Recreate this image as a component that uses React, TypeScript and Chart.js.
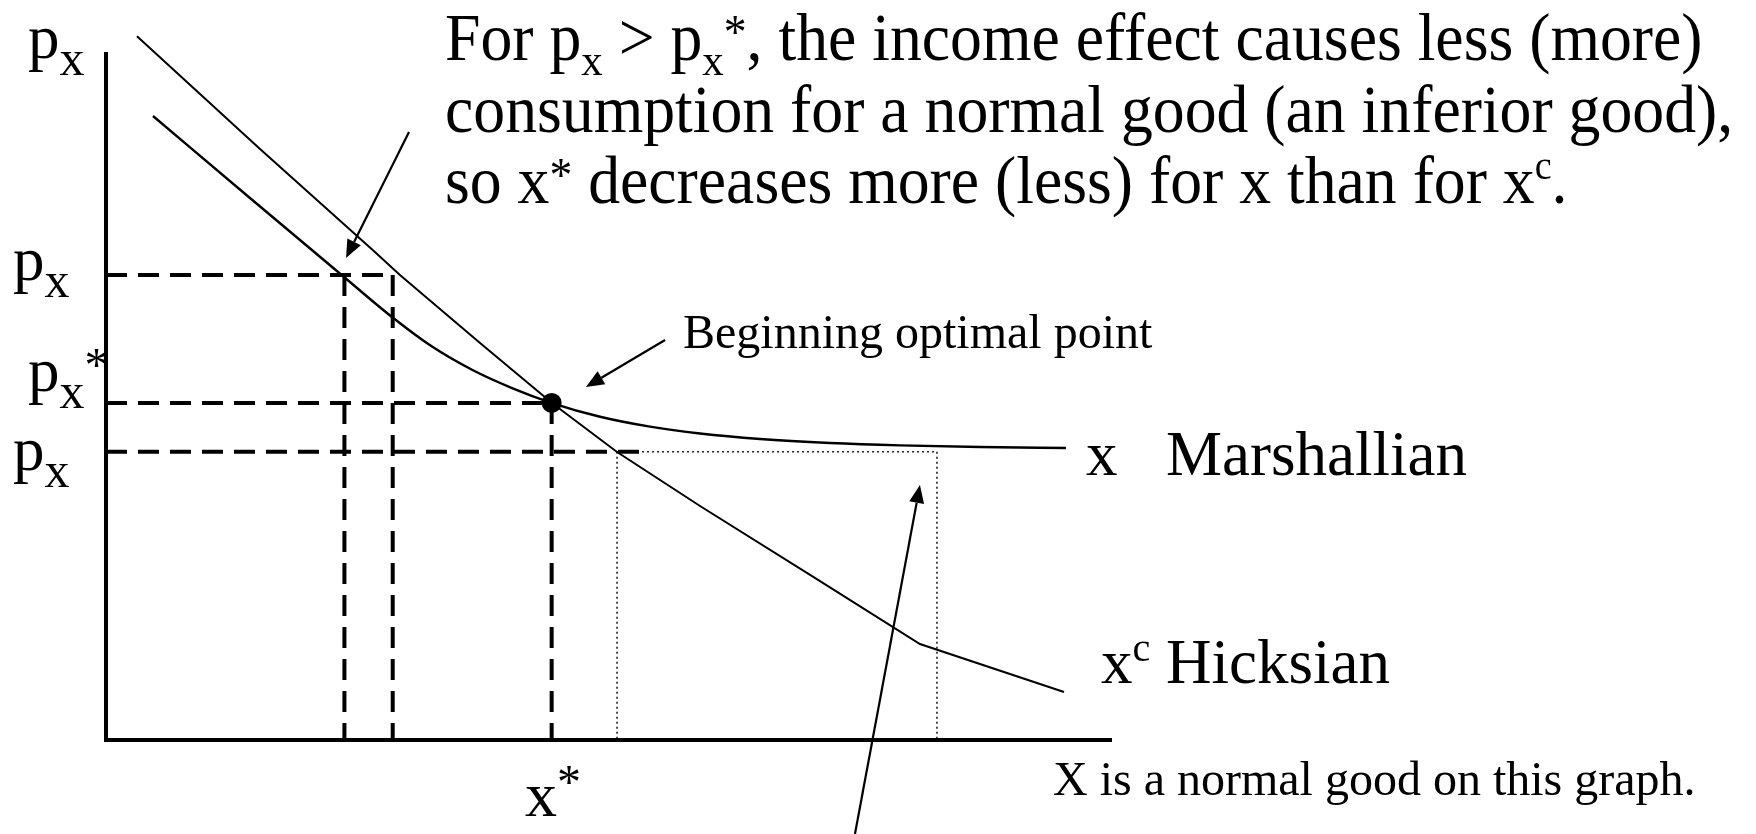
import React, { useEffect, useRef } from "react";
import { Chart, registerables } from "chart.js";

Chart.register(...registerables);

// Hicksian (compensated) demand x^c
const hicksX = [3.08, 15.31, 26.54, 29.22, 37.18, 44.33, 50.8, 59.05, 70.78, 80.91, 95.23];
const hicksY = [102.3, 85.9, 71.2, 67.6, 57.7, 48.98, 41.86, 34.01, 23.26, 13.95, 6.98];

// Marshallian (ordinary) demand x
const marshX = [4.67, 14.31, 23.66, 28.43, 32.41, 36.38, 40.36, 44.33, 49.11, 54.08, 59.05, 65.01, 71.97, 78.93, 86.88, 95.43];
const marshY = [90.7, 78.78, 67.3, 61.48, 57.18, 53.81, 51.15, 48.98, 46.99, 45.55, 44.55, 43.75, 43.17, 42.82, 42.59, 42.44];

// price levels: high p_x, p_x*, low p_x
const priceLevels = [67.6, 49.0, 41.9];
// quantities: x (Marshallian, high p), x^c (high p), x*, x^c (low p), x (low p)
const quantityLevels = [23.7, 28.5, 44.3, 50.8, 82.6];
// end of the dashed part of the low-price guide
const lowDashEnd = [53.9];
// beginning optimal point
const optimum = [44.3, 49.0];

// arrows: [fromX, fromY, toX, toY]
const arrowIncome = [30.12, 88.37, 23.86, 70.06];
const arrowOptimum = [55.57, 58.14, 47.71, 51.31];
const arrowGap = [74.45, -13.66, 80.91, 37.06];

const FONT = '"Liberation Serif", "Times New Roman", Times, serif';

type Seg = { t: string; s: number; dy?: number };

function drawRich(ctx: CanvasRenderingContext2D, x: number, y: number, segs: Seg[], sx = 1) {
  ctx.save();
  ctx.translate(x, y);
  ctx.scale(sx, 1);
  ctx.fillStyle = "#000";
  ctx.textBaseline = "alphabetic";
  ctx.textAlign = "left";
  let cx = 0;
  for (const g of segs) {
    ctx.font = `${g.s}px ${FONT}`;
    ctx.fillText(g.t, cx, g.dy || 0);
    cx += ctx.measureText(g.t).width;
  }
  ctx.restore();
}

function pts(xs: number[], ys: number[]) {
  return xs.map((x, i) => ({ x, y: ys[i] }));
}

const annotations = {
  id: "annotations",
  afterDatasetsDraw(chart: any) {
    const ctx: CanvasRenderingContext2D = chart.ctx;
    const xs = chart.scales.x;
    const ys = chart.scales.y;
    const arrow = (a: number[]) => {
      const x0 = xs.getPixelForValue(a[0]);
      const y0 = ys.getPixelForValue(a[1]);
      const x1 = xs.getPixelForValue(a[2]);
      const y1 = ys.getPixelForValue(a[3]);
      const ang = Math.atan2(y1 - y0, x1 - x0);
      const len = 18;
      const hw = 7.5;
      const bx = x1 - len * Math.cos(ang);
      const by = y1 - len * Math.sin(ang);
      ctx.save();
      ctx.strokeStyle = "#000";
      ctx.fillStyle = "#000";
      ctx.lineWidth = 2.2;
      ctx.beginPath();
      ctx.moveTo(x0, y0);
      ctx.lineTo(bx, by);
      ctx.stroke();
      ctx.beginPath();
      ctx.moveTo(x1, y1);
      ctx.lineTo(bx + hw * Math.sin(ang), by - hw * Math.cos(ang));
      ctx.lineTo(bx - hw * Math.sin(ang), by + hw * Math.cos(ang));
      ctx.closePath();
      ctx.fill();
      ctx.restore();
    };
    arrow(arrowIncome);
    arrow(arrowOptimum);
    arrow(arrowGap);

    // title paragraph
    const sx = 0.951;
    drawRich(ctx, 445, 60, [
      { t: "For p", s: 67 },
      { t: "x", s: 45, dy: 15 },
      { t: " > p", s: 67 },
      { t: "x", s: 45, dy: 15 },
      { t: "*", s: 48, dy: -12 },
      { t: ", the income effect causes less (more)", s: 67 },
    ], sx);
    drawRich(ctx, 445, 132, [{ t: "consumption for a normal good (an inferior good),", s: 67 }], sx);
    drawRich(ctx, 445, 203, [
      { t: "so x", s: 67 },
      { t: "*", s: 48, dy: -12 },
      { t: " decreases more (less) for x than for x", s: 67 },
      { t: "c", s: 40, dy: -24 },
      { t: ".", s: 67 },
    ], sx);

    // y axis labels
    drawRich(ctx, 28, 58, [{ t: "p", s: 63 }, { t: "x", s: 50, dy: 17 }]);
    drawRich(ctx, 13, 280, [{ t: "p", s: 63 }, { t: "x", s: 50, dy: 17 }]);
    drawRich(ctx, 28, 391, [{ t: "p", s: 63 }, { t: "x", s: 50, dy: 17 }, { t: "*", s: 48, dy: -10 }]);
    drawRich(ctx, 13, 470, [{ t: "p", s: 63 }, { t: "x", s: 50, dy: 17 }]);

    // x axis label
    drawRich(ctx, 525, 816, [{ t: "x", s: 64 }, { t: "*", s: 48, dy: -18 }]);

    // curve labels
    drawRich(ctx, 1086, 475, [{ t: "x", s: 63 }]);
    drawRich(ctx, 1166, 475, [{ t: "Marshallian", s: 63 }]);
    drawRich(ctx, 1101, 683, [{ t: "x", s: 63 }, { t: "c", s: 40, dy: -22 }, { t: " Hicksian", s: 63 }]);

    drawRich(ctx, 683, 348, [{ t: "Beginning optimal point", s: 48 }]);
    drawRich(ctx, 1053, 795, [{ t: "X is a normal good on this graph.", s: 48 }]);
  },
};

export default function App() {
  const ref = useRef<HTMLCanvasElement | null>(null);
  useEffect(() => {
    if (!ref.current) return;
    const [pHigh, pStar, pLow] = priceLevels;
    const [xMHigh, xHHigh, xStar, xHLow, xMLow] = quantityLevels;
    const base = {
      showLine: true,
      pointRadius: 0,
      borderColor: "#000",
      backgroundColor: "#000",
      fill: false,
      clip: false as any,
      tension: 0,
    };
    const dashed = { ...base, borderWidth: 4, borderDash: [21, 11], borderCapStyle: "butt" as const };
    const dotted = { ...base, borderWidth: 1.6, borderDash: [2, 3], borderColor: "#222" };
    const chart = new Chart(ref.current, {
      type: "scatter",
      data: {
        datasets: [
          {
            ...base,
            showLine: false,
            data: [{ x: optimum[0], y: optimum[1] }],
            pointRadius: 10,
            pointBackgroundColor: "#000",
            pointBorderWidth: 0,
          } as any,
          {
            ...base,
            borderWidth: 4,
            borderJoinStyle: "miter",
            data: [
              { x: 0, y: 100 },
              { x: 0, y: 0 },
              { x: 100, y: 0 },
            ],
          },
          { ...base, borderWidth: 2, data: pts(hicksX, hicksY) },
          { ...base, borderWidth: 2.4, cubicInterpolationMode: "monotone", data: pts(marshX, marshY) },
          { ...dashed, data: [{ x: 0, y: pHigh }, { x: xHHigh, y: pHigh }] },
          { ...dashed, data: [{ x: xMHigh, y: pHigh }, { x: xMHigh, y: 0 }] },
          { ...dashed, data: [{ x: xHHigh, y: pHigh }, { x: xHHigh, y: 0 }] },
          { ...dashed, data: [{ x: 0, y: pStar }, { x: xStar, y: pStar }] },
          { ...dashed, data: [{ x: xStar, y: pStar }, { x: xStar, y: 0 }] },
          { ...dashed, data: [{ x: 0, y: pLow }, { x: lowDashEnd[0], y: pLow }] },
          { ...dotted, data: [{ x: xHLow, y: pLow }, { x: xMLow, y: pLow }] },
          { ...dotted, data: [{ x: xHLow, y: pLow }, { x: xHLow, y: 0 }] },
          { ...dotted, data: [{ x: xMLow, y: pLow }, { x: xMLow, y: 0 }] },
        ] as any,
      },
      options: {
        animation: false,
        responsive: false,
        devicePixelRatio: 1,
        events: [],
        layout: { padding: { left: 106, right: 644, top: 52, bottom: 94 } },
        scales: {
          x: { type: "linear", min: 0, max: 100, display: false },
          y: { type: "linear", min: 0, max: 100, display: false },
        },
        plugins: { legend: { display: false }, tooltip: { enabled: false } },
      },
      plugins: [annotations],
    });
    return () => chart.destroy();
  }, []);
  return (
    <div style={{ position: "absolute", left: 0, top: 0, width: 1756, height: 834, background: "#fff" }}>
      <canvas ref={ref} width={1756} height={834} style={{ display: "block" }} />
    </div>
  );
}
